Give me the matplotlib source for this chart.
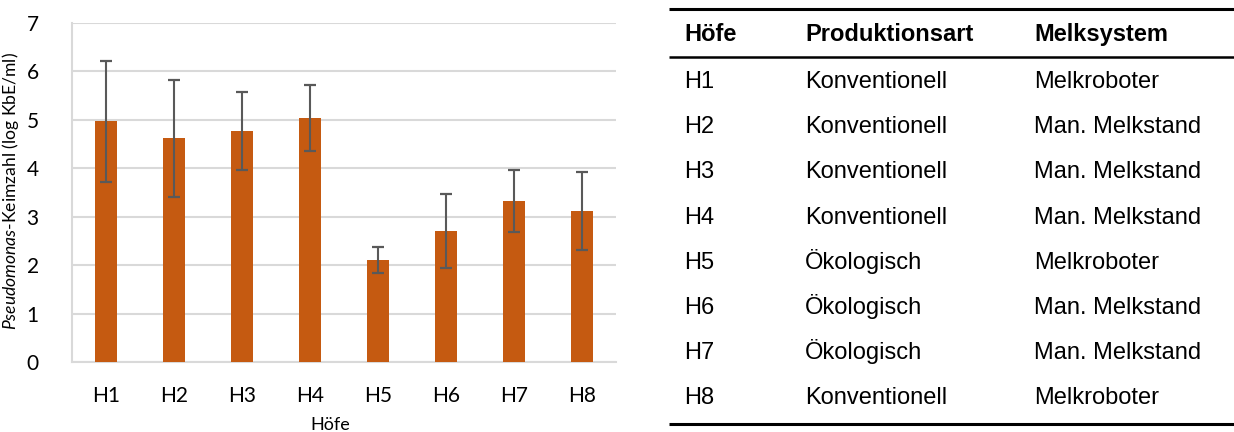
import matplotlib
matplotlib.use("Agg")
import matplotlib.pyplot as plt
import numpy as np

# ---- data ----
farms = ["H1", "H2", "H3", "H4", "H5", "H6", "H7", "H8"]
means = [4.98, 4.63, 4.77, 5.04, 2.11, 2.71, 3.33, 3.12]
err_low = [1.27, 1.22, 0.80, 0.69, 0.27, 0.76, 0.65, 0.80]
err_high = [1.24, 1.20, 0.80, 0.68, 0.26, 0.76, 0.63, 0.80]
y_ticks = [0, 1, 2, 3, 4, 5, 6, 7]

table_header = ["Höfe", "Produktionsart", "Melksystem"]
table_farms = ["H1", "H2", "H3", "H4", "H5", "H6", "H7", "H8"]
table_prod = ["Konventionell", "Konventionell", "Konventionell", "Konventionell",
              "Ökologisch", "Ökologisch", "Ökologisch", "Konventionell"]
table_milk = ["Melkroboter", "Man. Melkstand", "Man. Melkstand", "Man. Melkstand",
              "Melkroboter", "Man. Melkstand", "Man. Melkstand", "Melkroboter"]

plt.rcParams['mathtext.fontset'] = 'custom'
plt.rcParams['mathtext.it'] = 'Lato:italic'
plt.rcParams['mathtext.rm'] = 'Lato'

W, H = 1234, 432
fig = plt.figure(figsize=(W / 100, H / 100), dpi=100)

def px_axes(l, t, r, b):
    return [l / W, 1 - b / H, (r - l) / W, (b - t) / H]

ax = fig.add_axes(px_axes(72, 23, 616, 362.3))
x = np.arange(len(farms))
ax.bar(x, means, width=0.325, color="#C55A11", zorder=3)
ax.errorbar(x, means, yerr=[err_low, err_high], fmt='none', ecolor="#595959",
            elinewidth=1.5, capsize=4.3, capthick=1.6, zorder=4)
ax.set_xlim(-0.5, len(farms) - 0.5)
ax.set_ylim(0, 7)
ax.set_yticks(y_ticks)
ax.set_yticklabels([str(v) for v in y_ticks], fontfamily="Lato", fontsize=15)
ax.set_xticks(x)
ax.set_xticklabels(farms, fontfamily="Lato", fontsize=15)
ax.tick_params(axis='both', length=0)
ax.tick_params(axis='y', pad=24)
ax.tick_params(axis='x', pad=17)
ax.grid(axis='y', color="#D9D9D9", linewidth=1.5, zorder=0)
for s in ['top', 'right']:
    ax.spines[s].set_visible(False)
for s in ['left', 'bottom']:
    ax.spines[s].set_color("#D9D9D9")
    ax.spines[s].set_linewidth(1.5)

fig.text(11 / W, 1 - 191.5 / H, r'$\it{Pseudomonas}$-Keimzahl (log KbE/ml)',
         rotation=90, ha='center', va='center', fontfamily="Lato", fontsize=12.6)
fig.text(330 / W, 1 - 430.5 / H, "Höfe", ha='center', va='baseline',
         fontfamily="Lato", fontsize=13)

# ---- table ----
tax = fig.add_axes([0, 0, 1, 1])
tax.set_xlim(0, W)
tax.set_ylim(H, 0)
tax.axis('off')
tax.patch.set_alpha(0)
col_x = [684, 805, 1034]
tax.plot([669, W], [9, 9], color='black', lw=2.2, solid_capstyle='butt')
tax.plot([669, W], [57, 57], color='black', lw=1.8, solid_capstyle='butt')
tax.plot([669, W], [423.5, 423.5], color='black', lw=2.2, solid_capstyle='butt')
tf = "Liberation Sans"
for cx, t in zip(col_x, table_header):
    tax.text(cx, 40.8, t, ha='left', va='baseline', fontfamily=tf,
             fontweight='bold', fontsize=17)
row_y0, row_dy = 87.8, 45.24
for i, (a, b, c) in enumerate(zip(table_farms, table_prod, table_milk)):
    yb = row_y0 + i * row_dy
    for cx, t in zip(col_x, (a, b, c)):
        tax.text(cx, yb, t, ha='left', va='baseline', fontfamily=tf, fontsize=17)

fig.savefig("out.png", dpi=100)
